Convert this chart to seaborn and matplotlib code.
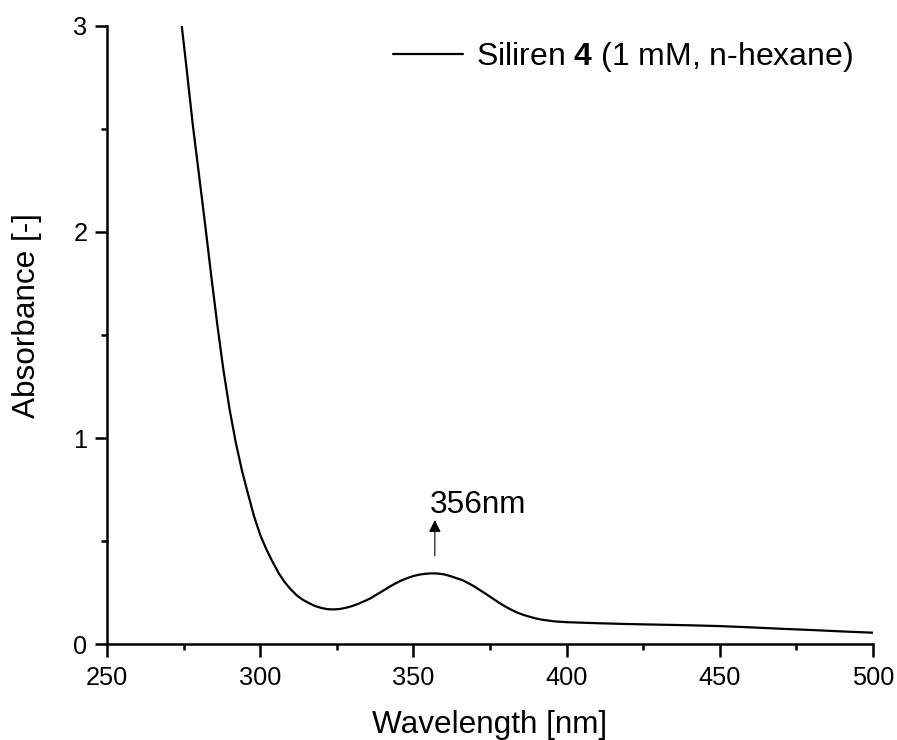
#imports
import numpy as np
import pandas as pd
import seaborn as sns
import matplotlib.pyplot as plt
from matplotlib.ticker import MultipleLocator

#values (nm, absorbance)
wavelength = [272, 274.4, 276, 278, 280, 282, 284, 286, 288, 290, 292, 294, 296, 298,
              300, 302, 304, 306, 308, 310, 312, 314, 316, 318, 320, 322, 324, 326, 328,
              330, 332, 334, 336, 338, 340, 342, 344, 346, 348, 350, 352, 354, 356, 358,
              360, 362, 364, 366, 368, 370, 372, 374, 376, 378, 380, 382, 384, 386, 388,
              390, 392, 394, 396, 398, 400, 410, 420, 430, 440, 450, 460, 470, 480, 490, 500]
absorbance = [3.12, 3.00, 2.79, 2.52, 2.28, 2.04, 1.79, 1.55, 1.33, 1.14, 0.98, 0.845, 0.73, 0.62,
              0.53, 0.46, 0.40, 0.345, 0.30, 0.265, 0.235, 0.214, 0.198, 0.184, 0.175, 0.169, 0.168, 0.170, 0.176,
              0.184, 0.195, 0.208, 0.222, 0.240, 0.258, 0.276, 0.293, 0.308, 0.320, 0.330, 0.337, 0.341, 0.343, 0.342,
              0.338, 0.330, 0.320, 0.310, 0.295, 0.278, 0.259, 0.240, 0.220, 0.200, 0.182, 0.166, 0.152, 0.141, 0.132,
              0.124, 0.118, 0.114, 0.110, 0.108, 0.106, 0.101, 0.097, 0.094, 0.091, 0.087, 0.081, 0.074, 0.068, 0.061, 0.055]

peak_nm = 357
peak_label = "356nm"
series_label = r"Siliren $\mathbf{4}$ (1 mM, n-hexane)"

df = pd.DataFrame({"Wavelength": wavelength, "Absorbance": absorbance})

sns.set_theme(style="ticks")
plt.rcParams['font.family'] = ['Liberation Sans', 'DejaVu Sans']
plt.rcParams['mathtext.fontset'] = 'custom'
plt.rcParams['mathtext.rm'] = 'Liberation Sans'
plt.rcParams['mathtext.bf'] = 'Liberation Sans:bold'
#pure black text like the original
for key in ['text.color', 'axes.labelcolor', 'xtick.color', 'ytick.color', 'axes.edgecolor']:
    plt.rcParams[key] = 'black'

fig = plt.figure(figsize=(8.97, 7.4), dpi=100)
ax = fig.add_axes([0.1193, 0.1297, 0.8539, 0.8352])

sns.lineplot(data=df, x="Wavelength", y="Absorbance", color="black", linewidth=1.6,
             label=series_label, ax=ax)

ax.set_xlim(250, 500)
ax.set_ylim(0, 3)
ax.xaxis.set_major_locator(MultipleLocator(50))
ax.xaxis.set_minor_locator(MultipleLocator(25))
ax.yaxis.set_major_locator(MultipleLocator(1))
ax.yaxis.set_minor_locator(MultipleLocator(0.5))
ax.tick_params(which='major', direction='out', length=9, width=1.8, labelsize=18.3, pad=5)
ax.tick_params(axis='x', which='major', pad=7)
ax.tick_params(which='minor', direction='out', length=4, width=1.8)
sns.despine(ax=ax)
for s in ['left', 'bottom']:
    ax.spines[s].set_linewidth(1.8)

ax.set_xlabel("Wavelength [nm]", fontsize=22.7)
ax.set_ylabel("Absorbance [-]", fontsize=22.7)
#keep the descender of "g" inside the picture
ax.xaxis.set_label_coords(0.5, -0.106)
ax.yaxis.set_label_coords(-0.085, 0.532)

#peak marker
ax.annotate("", xy=(peak_nm, 0.615), xytext=(peak_nm, 0.415),
            arrowprops=dict(arrowstyle="-|>", color="black", lw=0.8, mutation_scale=18))
ax.text(355.4, 0.636, peak_label, fontsize=22.7, ha='left', va='baseline')

ax.legend(loc='center left', bbox_to_anchor=(0.373, 0.950), frameon=False, fontsize=23,
          handlelength=2.2, handletextpad=0.4, borderpad=0, borderaxespad=0)

fig.savefig("out.png", dpi=100)
